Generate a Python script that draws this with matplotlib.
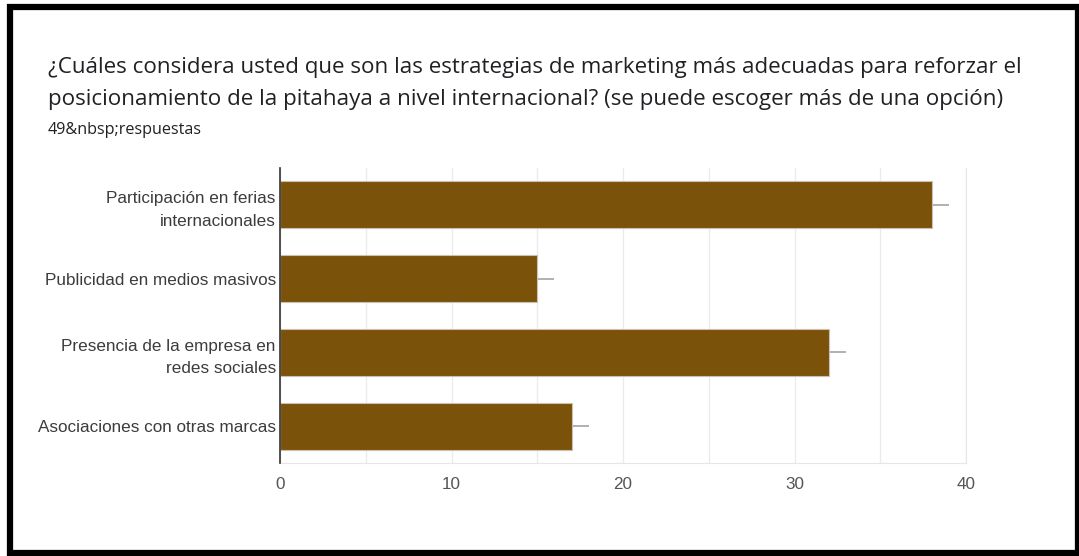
import matplotlib.pyplot as plt
from matplotlib.patches import Rectangle

categorias = [
    "Participación en ferias\ninternacionales",
    "Publicidad en medios masivos",
    "Presencia de la empresa en\nredes sociales",
    "Asociaciones con otras marcas",
]
respuestas = [38, 15, 32, 17]
xticks = [0, 10, 20, 30, 40]

titulo_1 = "¿Cuáles considera usted que son las estrategias de marketing más adecuadas para reforzar el"
titulo_2 = "posicionamiento de la pitahaya a nivel internacional? (se puede escoger más de una opción)"
subtitulo = "49&nbsp;respuestas"

color_barra = "#7a5209"

fig = plt.figure(figsize=(10.79, 5.56), dpi=100)
fig.patch.set_facecolor("white")

# marco negro alrededor de la tarjeta
fig.patches.append(Rectangle((0.0093, 0.0054), 0.9897, 0.982, transform=fig.transFigure,
                             fill=False, edgecolor="black", linewidth=4.5))

fig.text(0.0445, 1 - 73 / 556, titulo_1, fontsize=16.1, family="Open Sans", color="#202124",
         va="baseline")
fig.text(0.0445, 1 - 105 / 556, titulo_2, fontsize=16.1, family="Open Sans", color="#202124",
         va="baseline")
fig.text(0.0445, 1 - 134 / 556, subtitulo, fontsize=11.6, family="Open Sans", color="#202124",
         va="baseline")

ax = fig.add_axes([0.2595, 0.1673, 0.6358, 0.5306])
pos = list(range(len(categorias)))
ax.barh(pos, respuestas, height=0.64, color=color_barra, edgecolor="#c9c2b4",
        linewidth=0.8, zorder=3)
# pequeña extensión gris al final de cada barra
ax.hlines(pos, respuestas, [r + 1 for r in respuestas], color="#aaaaaa", linewidth=1.3, zorder=2)

ax.set_xlim(0, 40)
ax.set_ylim(3.5, -0.5)
ax.set_xticks(xticks)
ax.set_xticks([5, 15, 25, 35], minor=True)
ax.set_yticks(pos)
ax.set_yticklabels(categorias, fontsize=12.3, family="Liberation Sans", color="#3c3c3c",
                   linespacing=1.6)
ax.set_xticklabels([str(t) for t in xticks], fontsize=12.3, family="Liberation Sans",
                   color="#555555")
ax.tick_params(axis="both", which="both", length=0)
ax.tick_params(axis="x", pad=10)
ax.tick_params(axis="y", pad=3)
ax.grid(axis="x", which="both", color="#ebebeb", linewidth=1, zorder=0)

for lado in ["top", "right", "bottom"]:
    ax.spines[lado].set_color("#e6e6e6")
ax.spines["top"].set_visible(False)
ax.spines["left"].set_color("#333333")
ax.spines["left"].set_linewidth(1.2)
ax.spines["left"].set_zorder(4)

fig.savefig("out.png", dpi=100)
